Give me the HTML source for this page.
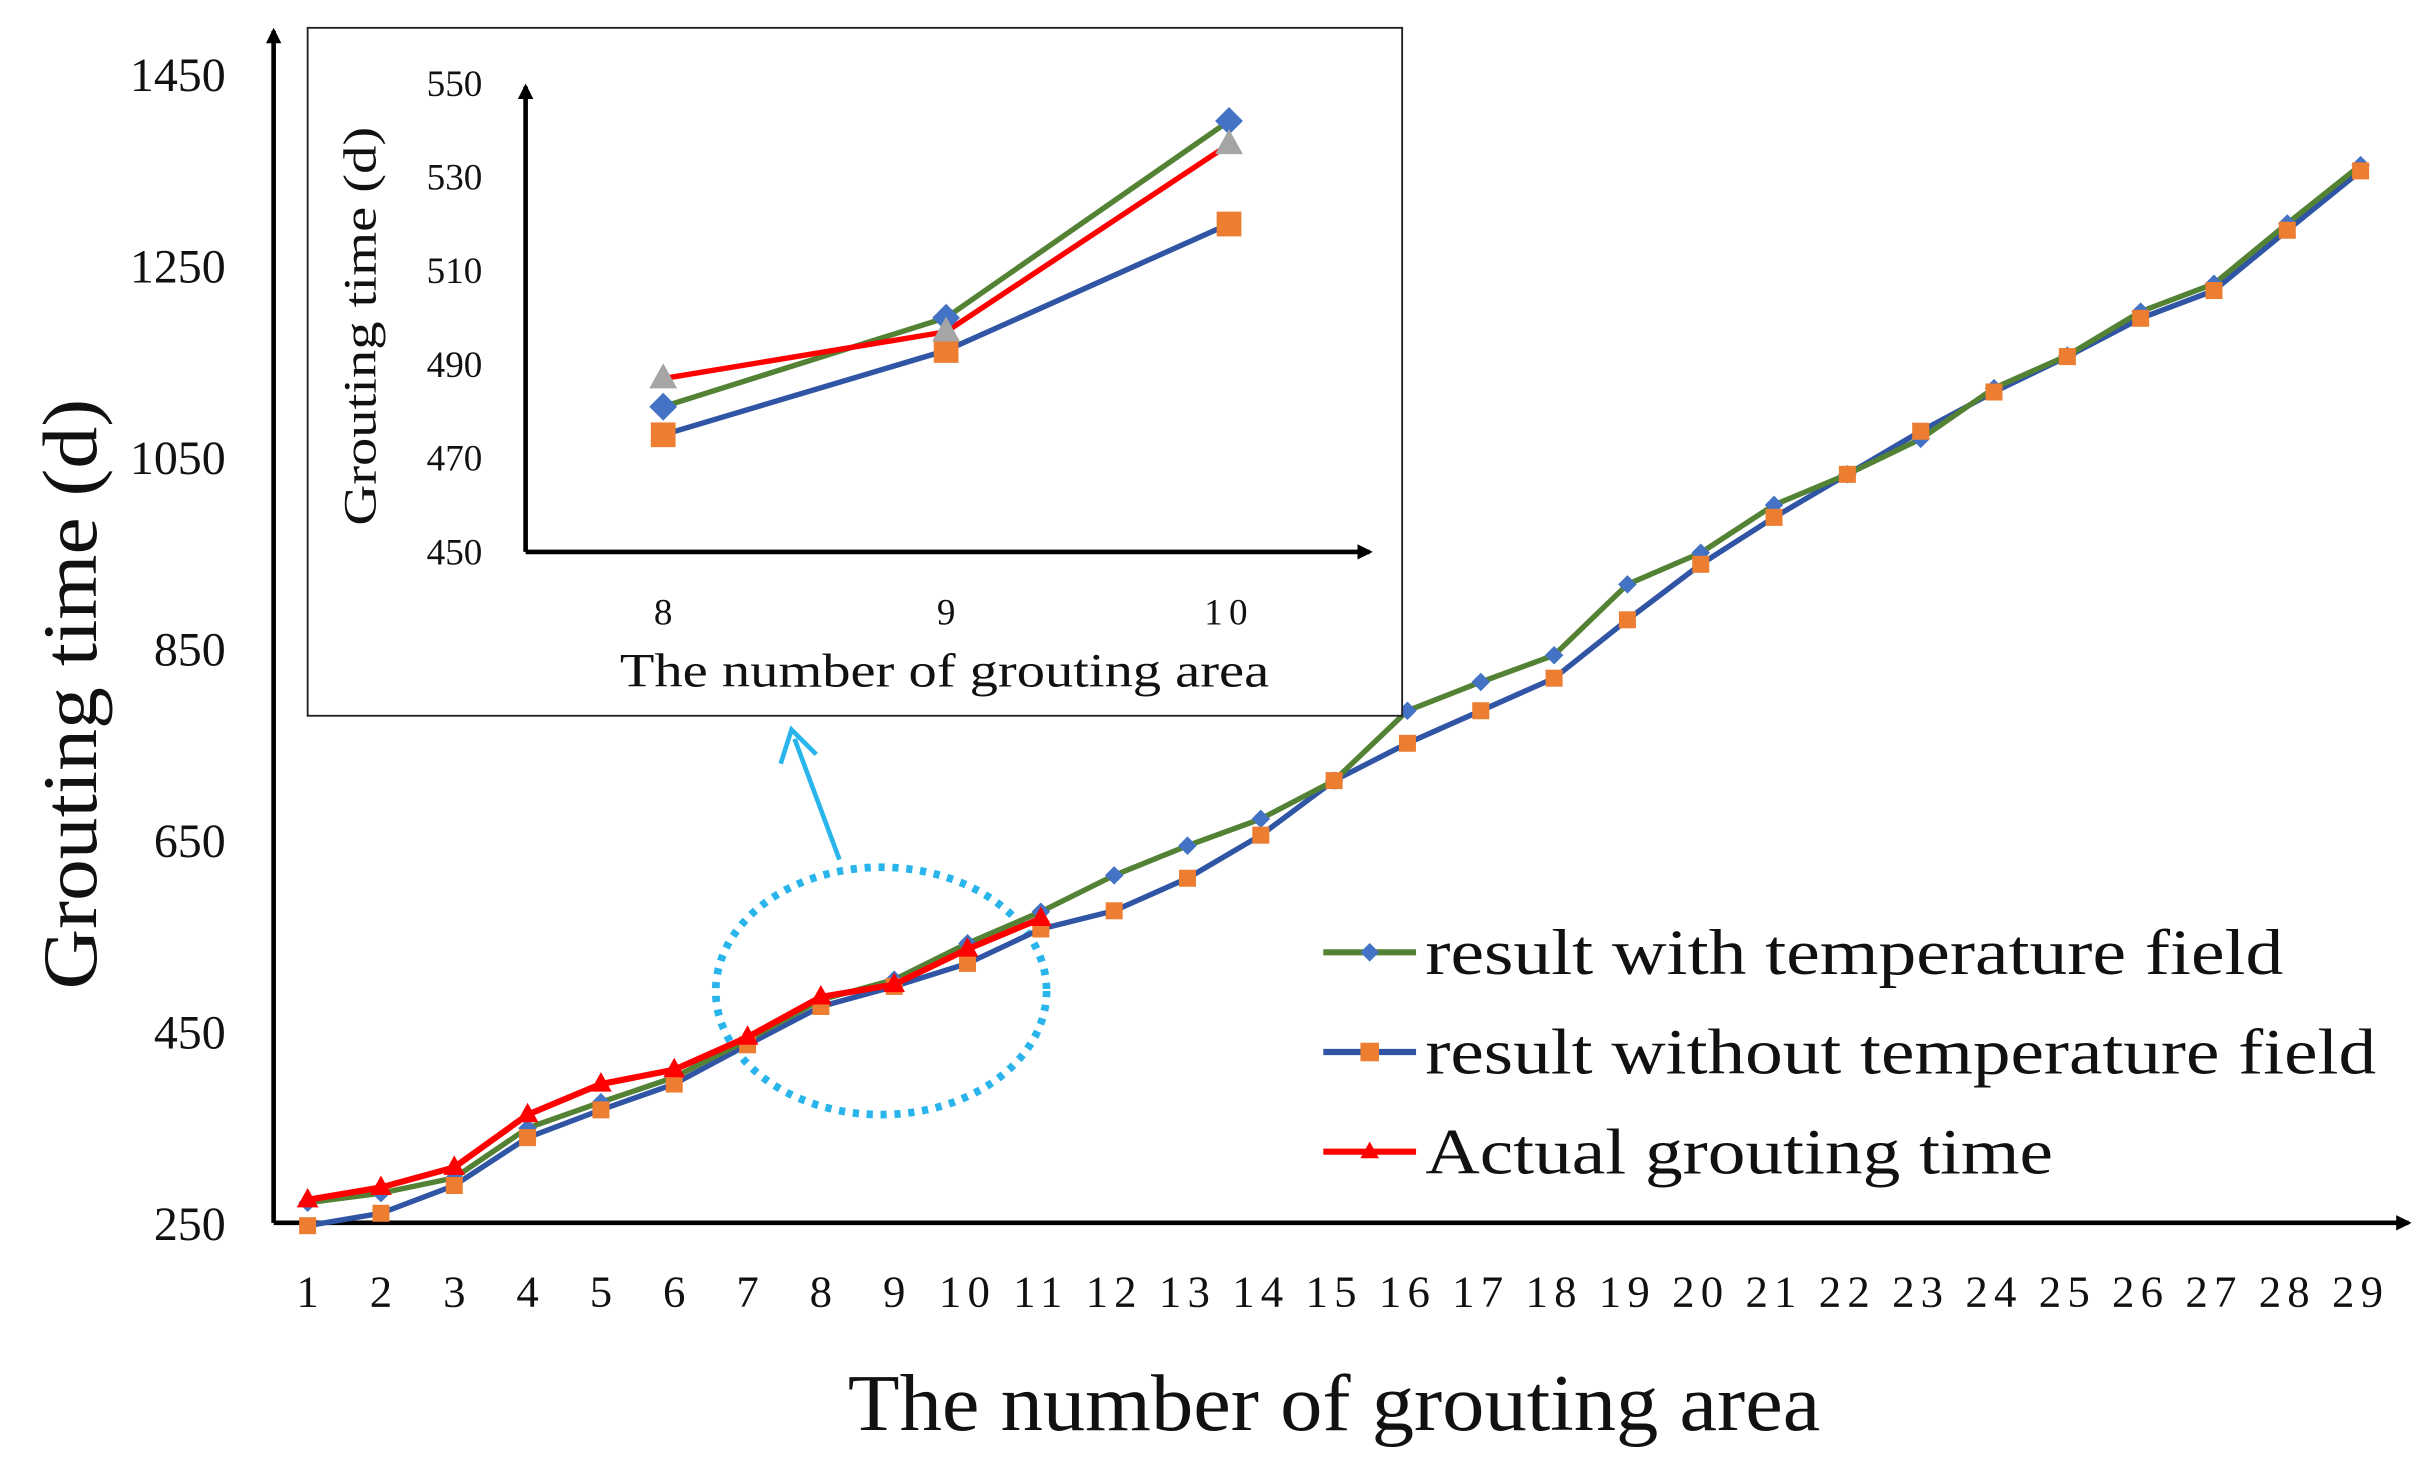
<!DOCTYPE html>
<html><head><meta charset="utf-8"><style>
html,body{margin:0;padding:0;background:#fff}
svg{display:block}
text{font-family:"Liberation Serif",serif;fill:#111}
</style></head><body>
<svg id="c" width="2424" height="1464" viewBox="0 0 1568 947">
<defs>
<marker id="ah" markerWidth="10" markerHeight="10" refX="8" refY="5" orient="auto" markerUnits="userSpaceOnUse"><path d="M0,0 L10,5 L0,10 z" fill="#000"/></marker>
</defs>
<g id="main"></g>
<g id="inset"></g>
</svg>
<script>
const cats=[1,2,3,4,5,6,7,8,9,10,11,12,13,14,15,16,17,18,19,20,21,22,23,24,25,26,27,28,29];
const withTemp=[271,281,297,349,376,402,441,483,504,542,575,613,644,672,712,785,815,843,917,950,1000,1032,1069,1122,1156,1202,1231,1294,1355];
const withoutTemp=[247,260,289,339,368,395,436,476,497,521,557,576,610,655,712,751,785,819,880,938,987,1032,1077,1118,1155,1195,1224,1287,1349];
const actual=[274,287,308,363,395,410,444,486,499,536,568];
const yTicks=[250,450,650,850,1050,1250,1450];
const insetCats=[8,9,10];
const insetWith=[481,500,542];
const insetWithout=[475,493,520];
const insetActual=[487,497,537];
const insetTicks=[450,470,490,510,530,550];

const NS="http://www.w3.org/2000/svg";
function mk(p,t,a,txt){const e=document.createElementNS(NS,t);for(const k in a)e.setAttribute(k,a[k]);if(txt!==undefined)e.textContent=txt;p.appendChild(e);return e;}
const G=document.getElementById('main'),I=document.getElementById('inset');
const xs=i=>199+(i-1)*(1527-199)/28;
const ys=v=>791-(v-250)*(791-48)/1200;

let e=mk(G,'line',{x1:177,y1:791,x2:177,y2:20,stroke:'#000','stroke-width':3,'marker-end':'url(#ah)'});

e=mk(G,'line',{x1:177,y1:791,x2:1558,y2:791,stroke:'#000','stroke-width':3,'marker-end':'url(#ah)'});

yTicks.forEach(v=>{const t=mk(G,'text',{x:146,y:ys(v)+11,'text-anchor':'end','font-size':31},v);
});
cats.forEach(c=>{const t=mk(G,'text',{x:xs(c),y:845,'text-anchor':'middle','font-size':29,'letter-spacing':c>=10?'4':'0'},c);
});
e=mk(G,'text',{x:0,y:0,transform:'translate(62,449) rotate(-90)','text-anchor':'middle','font-size':50,textLength:382,lengthAdjust:'spacingAndGlyphs'},'Grouting time (d)');

e=mk(G,'text',{x:863,y:925,'text-anchor':'middle','font-size':52,textLength:629,lengthAdjust:'spacingAndGlyphs'},'The number of grouting area');


function line(p,xf,yf,xsArr,vals,col,w,name){const pts=vals.map((v,i)=>xf(xsArr[i])+','+yf(v)).join(' ');
const l=mk(p,'polyline',{points:pts,fill:'none',stroke:col,'stroke-width':w,'stroke-linejoin':'round'});
}
function marker(p,type,x,y,s,col,name){let m;
if(type==='d')m=mk(p,'polygon',{points:`${x},${y-s} ${x+s},${y} ${x},${y+s} ${x-s},${y}`,fill:col});
else if(type==='s')m=mk(p,'rect',{x:x-s,y:y-s,width:2*s,height:2*s,fill:col});
else m=mk(p,'polygon',{points:`${x},${y-s*1.1} ${x+s},${y+s*0.7} ${x-s},${y+s*0.7}`,fill:col});
}

e=mk(G,'ellipse',{cx:570,cy:641,rx:107,ry:80,fill:'none',stroke:'#29b5ec','stroke-width':5,'stroke-dasharray':'4 5'});

e=mk(G,'line',{x1:543,y1:556,x2:514,y2:478,stroke:'#29b5ec','stroke-width':3});

e=mk(G,'polyline',{points:'505,494 512,472 528,488',fill:'none',stroke:'#29b5ec','stroke-width':3});


line(G,xs,ys,cats,withoutTemp,'#2f55a4',3.5,'series-without-temperature');
line(G,xs,ys,cats,withTemp,'#548235',3.5,'series-with-temperature');
withTemp.forEach((v,i)=>marker(G,'d',xs(cats[i]),ys(v),6,'#4472c4','point-with-temp'));
withoutTemp.forEach((v,i)=>marker(G,'s',xs(cats[i]),ys(v),5.5,'#ed7d31','point-without-temp'));
line(G,xs,ys,cats.slice(0,actual.length),actual,'#ff0000',4,'series-actual');
actual.forEach((v,i)=>marker(G,'t',xs(cats[i]),ys(v),7,'#ff0000','point-actual'));

const leg=[['result with temperature field','#548235','#4472c4','d',555],['result without temperature field','#2f55a4','#ed7d31','s',615],['Actual grouting time','#ff0000','#ff0000','t',406]];
leg.forEach((l,i)=>{const y=616+i*64.5;const g=mk(G,'g',{});

mk(g,'line',{x1:856,y1:y,x2:916,y2:y,stroke:l[1],'stroke-width':4});
marker(g,l[3],886,y,6,l[2],'legend-marker');
mk(g,'text',{x:922,y:y+14,'font-size':42,textLength:l[4],lengthAdjust:'spacingAndGlyphs'},l[0]);});

e=mk(I,'rect',{x:199,y:18,width:708,height:445,fill:'#fff',stroke:'#222','stroke-width':1.2});

const ix=c=>429+(c-8)*183;
const iy=v=>357-(v-450)*(357-54)/100;
e=mk(I,'line',{x1:340,y1:357,x2:340,y2:56,stroke:'#000','stroke-width':3,'marker-end':'url(#ah)'});

e=mk(I,'line',{x1:340,y1:357,x2:886,y2:357,stroke:'#000','stroke-width':3,'marker-end':'url(#ah)'});

insetTicks.forEach(v=>{const t=mk(I,'text',{x:312,y:iy(v)+8,'text-anchor':'end','font-size':24},v);
});
insetCats.forEach(c=>{const t=mk(I,'text',{x:ix(c),y:404,'text-anchor':'middle','font-size':24,fill:'#555','letter-spacing':c>=10?'4':'0'},c);
});
e=mk(I,'text',{x:611,y:444,'text-anchor':'middle','font-size':31,textLength:420,lengthAdjust:'spacingAndGlyphs'},'The number of grouting area');

e=mk(I,'text',{x:0,y:0,transform:'translate(243,211) rotate(-90)','text-anchor':'middle','font-size':30,textLength:258,lengthAdjust:'spacingAndGlyphs'},'Grouting time (d)');

line(I,ix,iy,insetCats,insetWithout,'#2f55a4',3.5,'inset-series-without-temperature');
line(I,ix,iy,insetCats,insetWith,'#548235',3.5,'inset-series-with-temperature');
line(I,ix,iy,insetCats,insetActual,'#ff0000',3.5,'inset-series-actual');
insetWith.forEach((v,i)=>marker(I,'d',ix(insetCats[i]),iy(v),9,'#4472c4','inset-point-with-temp'));
insetWithout.forEach((v,i)=>marker(I,'s',ix(insetCats[i]),iy(v),8,'#ed7d31','inset-point-without-temp'));
insetActual.forEach((v,i)=>marker(I,'t',ix(insetCats[i]),iy(v),9,'#a5a5a5','inset-point-actual'));
</script>
</body></html>
